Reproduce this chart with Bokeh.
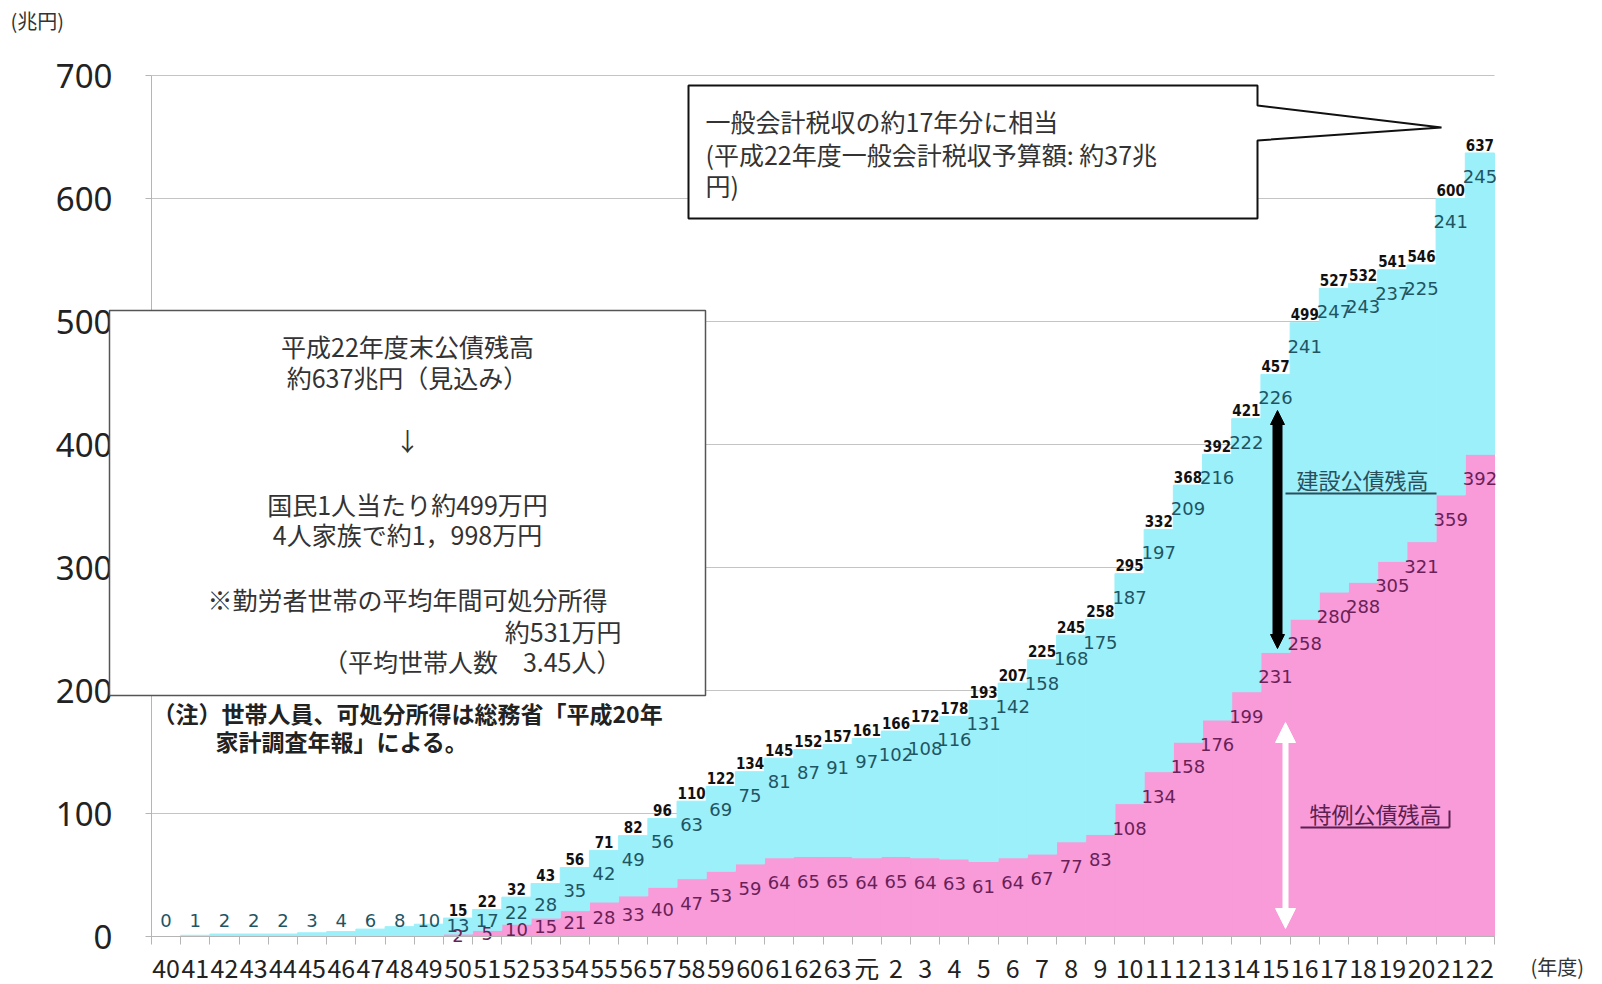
import numpy as np
from bokeh.plotting import figure
from bokeh.models import (ColumnDataSource, Range1d, FixedTicker, BoxAnnotation,
                          PolyAnnotation, Label, Arrow, NormalHead, LinearAxis, Grid)
from bokeh.core.properties import value
from bokeh.embed import file_html
from bokeh.resources import INLINE

# ---------------- data (兆円) ----------------
years = ([str(y) for y in range(40, 64)] + ["元"] + [str(y) for y in range(2, 23)])
construction = [0, 1, 2, 2, 2, 3, 4, 6, 8, 10,
                13, 17, 22, 28, 35, 42, 49, 56, 63, 69,
                75, 81, 87, 91,
                97, 102, 108, 116, 131, 142, 158, 168, 175, 187,
                197, 209, 216, 222, 226, 241, 247, 243, 237, 225,
                241, 245]
deficit = [0, 0, 0, 0, 0, 0, 0, 0, 0, 0,
           2, 5, 10, 15, 21, 28, 33, 40, 47, 53,
           59, 64, 65, 65,
           64, 65, 64, 63, 61, 64, 67, 77, 83, 108,
           134, 158, 176, 199, 231, 258, 280, 288, 305, 321,
           359, 392]
total = [0, 1, 2, 2, 2, 3, 4, 6, 8, 10,
         15, 22, 32, 43, 56, 71, 82, 96, 110, 122,
         134, 145, 152, 157,
         161, 166, 172, 178, 193, 207, 225, 245, 258, 295,
         332, 368, 392, 421, 457, 499, 527, 532, 541, 546,
         600, 637]
y_ticks = [0, 100, 200, 300, 400, 500, 600, 700]

# ---------------- layout ----------------
W, H = 1602, 984
L, R, T, B = 151, 1494, 75, 936     # pixel box of the plotted area
n = len(years)
YMAX = 700

def xd(px):
    return (px - L) * n / (R - L)

def yd(py):
    return (B - py) * YMAX / (B - T)

CYAN = "#9CF0FA"
PINK = "#F89BD8"
CJK = "Noto Sans CJK JP"
AXC = "#b5b5b5"

# frame spans the whole canvas so that nothing is clipped; axes sit at fixed locations
p = figure(width=W, height=H, output_backend="svg", toolbar_location=None,
           x_range=Range1d(xd(0), xd(W)), y_range=Range1d(yd(H), yd(0)),
           x_axis_location=None, y_axis_location=None, min_border=0)
p.outline_line_color = None
p.background_fill_color = "white"
p.border_fill_color = "white"
p.grid.visible = False   # hide the default grids

xs = np.arange(n) + 0.5
dec = np.array(deficit, dtype=float)
con = np.array(construction, dtype=float)
tot_h = dec + con

# grid limited to the plotted area
ygrid = Grid(dimension=1, ticker=FixedTicker(ticks=y_ticks[1:]),
             grid_line_color="#c4c4c4", grid_line_width=1.2, cross_bounds=(0, n))
p.add_layout(ygrid)

src = ColumnDataSource(dict(x=xs, deficit=dec, construction=con))
p.vbar_stack(["deficit", "construction"], x="x", width=1.0, source=src,
             fill_color=[PINK, CYAN], line_color=[PINK, CYAN], line_width=1)

# y axis
ya = LinearAxis(fixed_location=0, bounds=(0, YMAX), ticker=FixedTicker(ticks=y_ticks))
ya.major_label_text_font = "Noto Sans"
ya.major_label_text_font_size = "33px"
ya.major_label_text_color = "#222222"
ya.axis_line_color = AXC
ya.major_tick_line_color = AXC
ya.major_tick_out = 6
ya.major_tick_in = 0
ya.minor_tick_line_color = None
ya.major_label_standoff = 33
p.add_layout(ya, "left")

# x axis
xa = LinearAxis(fixed_location=0, bounds=(0, n),
                ticker=FixedTicker(ticks=list(xs), minor_ticks=list(range(n + 1))))
xa.major_label_overrides = {float(x): lab for x, lab in zip(xs, years)}
xa.major_label_text_font = CJK
xa.major_label_text_font_size = "25px"
xa.major_label_text_color = "#222222"
xa.axis_line_color = AXC
xa.major_tick_out = 0
xa.major_tick_in = 0
xa.minor_tick_out = 8
xa.minor_tick_in = 0
xa.minor_tick_line_color = AXC
xa.major_label_standoff = 4
p.add_layout(xa, "below")

# ---------------- value labels ----------------
has_def = dec > 0
con_y = np.where(has_def, np.maximum(tot_h - 19, tot_h * 0.6), 13)
def_y = np.maximum(dec - 20, dec * 0.55)

csrc = ColumnDataSource(dict(x=xs, y=con_y, t=[str(v) for v in construction]))
p.text(x="x", y="y", text="t", source=csrc, text_font=value("DejaVu Sans"),
       text_font_size="18px", text_color="#1f5563", text_align="center",
       text_baseline="middle")

dsrc = ColumnDataSource(dict(x=xs[has_def], y=def_y[has_def],
                             t=[str(v) for v, h in zip(deficit, has_def) if h]))
p.text(x="x", y="y", text="t", source=dsrc, text_font=value("DejaVu Sans"),
       text_font_size="18px", text_color="#6a1f58", text_align="center",
       text_baseline="middle")

tsrc = ColumnDataSource(dict(x=xs[has_def], y=tot_h[has_def] + 2,
                             t=[str(v) for v, h in zip(total, has_def) if h]))
p.text(x="x", y="y", text="t", source=tsrc, text_font=value("DejaVu Sans Condensed"),
       text_font_style="bold", text_font_size="15px", text_color="#111111",
       text_align="center", text_baseline="bottom")

# ---------------- annotations ----------------
p.add_layout(BoxAnnotation(left=xd(109), right=xd(705), top=yd(310), bottom=yd(695),
                           fill_color="white", fill_alpha=1.0,
                           line_color="#555555", line_alpha=1.0, line_width=1.5,
                           level="overlay"))

def lab(txt, px, py, size="25px", align="center", color="#333333", style="normal"):
    p.add_layout(Label(x=xd(px), y=yd(py), text=txt, text_font=CJK,
                       text_font_size=size, text_color=color, text_align=align,
                       text_baseline="middle", text_font_style=style, level="overlay"))

lab("平成22年度末公債残高", 407, 345)
lab("約637兆円（見込み）", 407, 376)
lab("↓", 407, 439)
lab("国民1人当たり約499万円", 407, 503)
lab("4人家族で約1，998万円", 407, 533)
lab("※勤労者世帯の平均年間可処分所得", 407, 598)
lab("約531万円", 621, 630, align="right")
lab("（平均世帯人数　3.45人）", 621, 660, align="right")

lab("（注）世帯人員、可処分所得は総務省「平成20年", 152, 712, size="23px",
    align="left", color="#222222", style="bold")
lab("家計調査年報」による。", 215, 740, size="23px", align="left",
    color="#222222", style="bold")

# callout box
cx = [688, 1257, 1257, 1441, 1257, 1257, 688]
cy = [85, 85, 105, 127, 140, 218, 218]
p.add_layout(PolyAnnotation(xs=[xd(v) for v in cx], ys=[yd(v) for v in cy],
                            fill_color="white", fill_alpha=1.0,
                            line_color="#111111", line_alpha=1.0, line_width=2,
                            level="overlay"))
lab("一般会計税収の約17年分に相当", 705, 120, align="left")
lab("(平成22年度一般会計税収予算額: 約37兆", 705, 153, align="left")
lab("円)", 705, 184, align="left")

# arrows
ax = xd(1277)
p.add_layout(Arrow(x_start=ax, y_start=yd(648), x_end=ax, y_end=yd(410),
                   line_width=10, line_color="black",
                   start=NormalHead(size=14, fill_color="black", line_color="black"),
                   end=NormalHead(size=14, fill_color="black", line_color="black")))
wx = xd(1285)
p.add_layout(Arrow(x_start=wx, y_start=yd(928), x_end=wx, y_end=yd(722),
                   line_width=6, line_color="white",
                   start=NormalHead(size=20, fill_color="white", line_color="white"),
                   end=NormalHead(size=20, fill_color="white", line_color="white")))

# series labels with underline
lab("建設公債残高", 1296, 478, size="22px", align="left", color="#2a4f5a")
p.add_layout(Arrow(x_start=xd(1285), y_start=yd(493), x_end=xd(1436), y_end=yd(493),
                   line_width=2, line_color="#2a4f5a", end=None))
lab("特例公債残高", 1309, 812, size="22px", align="left", color="#5a2050")
p.add_layout(Arrow(x_start=xd(1300), y_start=yd(827), x_end=xd(1449), y_end=yd(827),
                   line_width=2, line_color="#5a2050", end=None))
p.add_layout(Arrow(x_start=xd(1449), y_start=yd(827), x_end=xd(1449), y_end=yd(810),
                   line_width=2, line_color="#5a2050", end=None))

# unit labels
lab("(兆円)", 10, 20, size="20px", align="left", color="#333333")
lab("(年度)", 1530, 966, size="20px", align="left", color="#333333")

open("out.html", "w").write(file_html(p, INLINE))
